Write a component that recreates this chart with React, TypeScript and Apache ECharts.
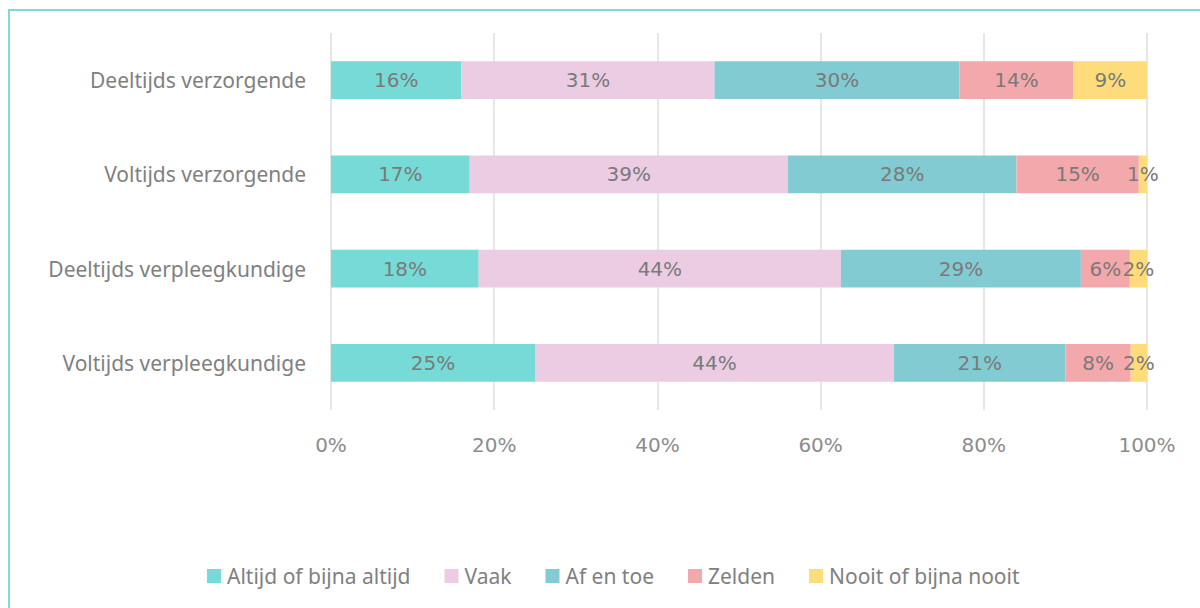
import React, { useEffect, useRef } from "react";
import * as echarts from "echarts";

const categories = [
  "Deeltijds verzorgende",
  "Voltijds verzorgende",
  "Deeltijds verpleegkundige",
  "Voltijds verpleegkundige",
];
const seriesNames = ["Altijd of bijna altijd", "Vaak", "Af en toe", "Zelden", "Nooit of bijna nooit"];
const altijd = [16, 17, 18.1, 25];
const vaak = [31, 39, 44.4, 44];
const afEnToe = [30, 28, 29.4, 21];
const zelden = [14, 15, 6, 8];
const nooit = [9, 1, 2.1, 2];
const colors = ["#76dad7", "#ebcce2", "#83cbd2", "#f3a8ab", "#fedc7b"];
const xTicks = [0, 20, 40, 60, 80, 100];

export default function App() {
  const ref = useRef<HTMLDivElement>(null);
  useEffect(() => {
    document.body.style.margin = "0";
    const chart = echarts.init(ref.current!, null, { renderer: "svg" });
    const values = [altijd, vaak, afEnToe, zelden, nooit];
    chart.setOption({
      animation: false,
      grid: { left: 331, right: 53, top: 33, bottom: 198 },
      graphic: [
        {
          type: "rect",
          shape: { x: 9, y: 10, width: 1220, height: 640 },
          style: { fill: "none", stroke: "#7fd9d4", lineWidth: 2 },
          silent: true,
        },
      ],
      legend: {
        left: 207,
        top: 565,
        padding: 0,
        itemWidth: 14,
        itemHeight: 14,
        itemGap: 34,
        icon: "rect",
        textStyle: {
          color: "#808080",
          fontSize: 21,
          lineHeight: 22,
          fontFamily: "Noto Sans",
          padding: [0, 0, 0, 1],
        },
        data: seriesNames,
      },
      xAxis: {
        type: "value",
        min: 0,
        max: 100,
        interval: 20,
        axisLine: { show: false },
        axisTick: { show: false },
        splitLine: { show: true, lineStyle: { color: "#dedede", width: 1.5 } },
        axisLabel: {
          margin: 25,
          color: "#8c8c8c",
          fontSize: 20,
          fontFamily: "DejaVu Sans",
          formatter: (v: number) => (xTicks.includes(v) ? v + "%" : ""),
        },
      },
      yAxis: {
        type: "category",
        inverse: true,
        data: categories,
        axisLine: { show: false },
        axisTick: { show: false },
        axisLabel: { margin: 25, color: "#808080", fontSize: 21, fontFamily: "Noto Sans" },
      },
      series: seriesNames.map((name, i) => ({
        name,
        type: "bar",
        stack: "total",
        barWidth: "40%",
        itemStyle: { color: colors[i] },
        label: {
          show: true,
          position: "inside",
          color: "#7a7a7a",
          fontSize: 20,
          fontFamily: "DejaVu Sans",
          formatter: (p: any) => Math.round(p.value) + "%",
        },
        data: values[i],
      })),
    });
    return () => chart.dispose();
  }, []);
  return <div ref={ref} style={{ width: 1200, height: 608 }} />;
}
